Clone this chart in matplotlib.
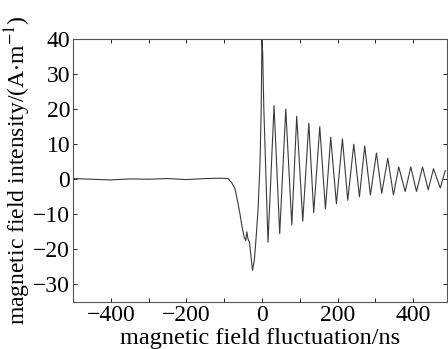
import numpy as np
import matplotlib
matplotlib.use("Agg")
import matplotlib.pyplot as plt

# baseline before the pulse (ns, A/m)
t_pre = [-500, -450, -400, -350, -300, -250, -200, -150, -110, -90, -80, -72, -65, -58, -52, -47, -43, -40, -37, -33, -29, -25, -20, -15, -10, -5, -2, 0, 2, 3, 5]
h_pre = [0.2, 0.0, -0.2, 0.1, 0.0, 0.2, -0.1, 0.2, 0.3, 0.2, -1.0, -2.5, -6.0, -10.0, -14.0, -16.5, -17.5, -15.0, -17.0, -18.0, -22.0, -26.0, -23.0, -16.0, -8.0, 5.0, 20.0, 40.0, 36.0, 30.0, 20.0]

# oscillation extrema after the main peak
t_peak = [32, 63, 92, 124, 153, 182, 213, 243, 272, 303, 333, 362, 394, 425, 454, 485]
h_peak = [21, 20, 18, 16, 15, 12, 11.5, 10, 9.5, 7.5, 6, 3.5, 3.5, 3.5, 3, 2.5]
t_trough = [16, 47, 79, 108, 137, 168, 197, 227, 258, 287, 317, 348, 379, 409, 440, 472]
h_trough = [-18, -15.5, -13, -12, -9.5, -8.5, -7, -6, -5, -4.5, -4, -4.5, -3.5, -3.5, -3, -2.5]

t_osc = []
h_osc = []
for tt, ht, tp, hp in zip(t_trough, h_trough, t_peak, h_peak):
    t_osc += [tt, tp]
    h_osc += [ht, hp]

t = t_pre + t_osc
h = h_pre + h_osc

plt.rcParams['font.family'] = ['Liberation Serif', 'DejaVu Serif']
plt.rcParams['mathtext.fontset'] = 'stix'

fig = plt.figure(figsize=(4.48, 3.49), dpi=100)
ax = fig.add_axes([0.163, 0.135, 0.835, 0.753])
ax.plot(t, h, color='#3a3a3a', lw=0.8)

ax.set_xlim(-500, 490)
ax.set_ylim(-35, 40)
xt = [-400, -200, 0, 200, 400]
yt = list(range(-30, 41, 10))
ax.set_xticks(xt)
ax.set_xticks([-300, -100, 100, 300], minor=True)
ax.set_yticks(yt)
ax.set_yticklabels([str(v).replace('-', '\u2212') for v in yt])
ax.set_xticklabels([str(v).replace('-', '\u2212') for v in xt])
ax.tick_params(which='both', direction='in', top=True, right=True, labelsize=17, length=3, width=0.6, pad=2)
for s in ax.spines.values():
    s.set_linewidth(0.8)
    s.set_color('#555555')

ax.set_xlabel('magnetic field fluctuation/ns', fontsize=17.5, labelpad=2)
ax.set_ylabel('magnetic field intensity/(A$\\cdot$m$^{-1}$)', fontsize=17, labelpad=0)

fig.savefig('out.png', dpi=100)
